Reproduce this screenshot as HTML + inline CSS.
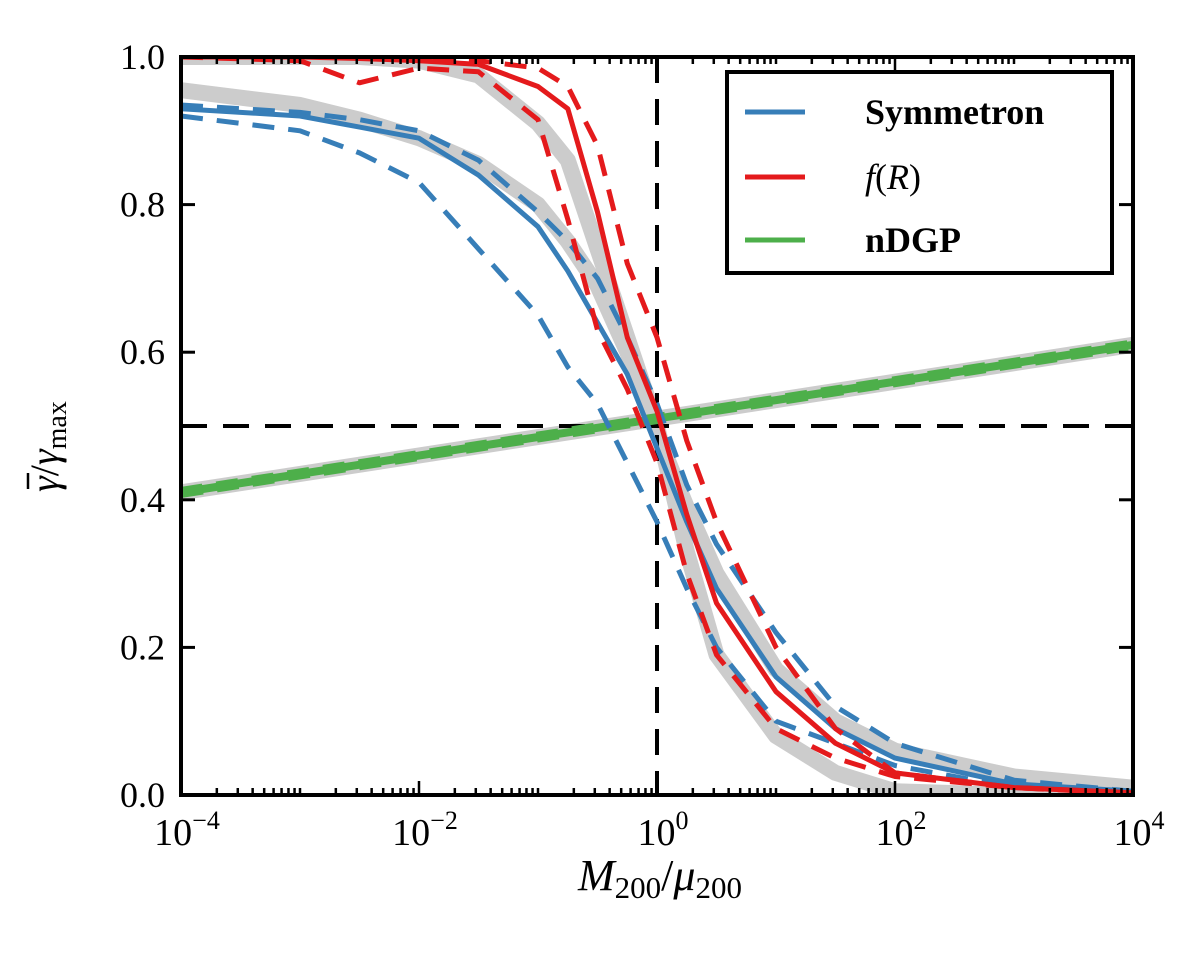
<!DOCTYPE html>
<html><head><meta charset="utf-8"><style>
body{margin:0;background:#fff}
svg text{font-family:"Liberation Serif",serif;fill:#000}
</style></head><body>
<svg id="chart" width="1200" height="960" xmlns="http://www.w3.org/2000/svg">
<g id="plot"></g>
<text x="660" y="890" text-anchor="middle" font-size="44"><tspan font-style="italic">M</tspan><tspan font-size="31" dy="8">200</tspan><tspan dy="-8">/</tspan><tspan font-style="italic">μ</tspan><tspan font-size="31" dy="8">200</tspan></text>
<g transform="translate(58,492) rotate(-90)">
<text x="0" y="0" font-size="40"><tspan font-style="italic">γ</tspan><tspan>/</tspan><tspan font-style="italic">γ</tspan><tspan font-size="28" dy="8">max</tspan></text>
<line x1="3" x2="19" y1="-30" y2="-30" stroke="#000" stroke-width="2.5"/>
</g>
<g>
<rect x="727" y="72" width="385" height="201" fill="#fff" stroke="#000" stroke-width="4"/>
<line x1="745" x2="805" y1="112" y2="112" stroke="#377eb8" stroke-width="5"/>
<text x="865" y="124" font-size="36" font-weight="bold">Symmetron</text>
<line x1="745" x2="805" y1="177" y2="177" stroke="#e41a1c" stroke-width="5"/>
<text x="865" y="189" font-size="36"><tspan font-style="italic">f</tspan>(<tspan font-style="italic">R</tspan>)</text>
<line x1="745" x2="805" y1="240" y2="240" stroke="#4daf4a" stroke-width="5"/>
<text x="865" y="252" font-size="36" font-weight="bold">nDGP</text>
</g>
</svg>
<script>
const lx = [-4,-3,-2.5,-2,-1.5,-1,-0.75,-0.5,-0.25,0,0.25,0.5,1,1.5,2,3,4];
const greySym = [0.955,0.935,0.915,0.89,0.855,0.80,0.75,0.69,0.60,0.49,0.39,0.30,0.17,0.10,0.06,0.025,0.01];
const greyFR  = [1.0,1.0,1.0,0.995,0.975,0.91,0.86,0.74,0.62,0.50,0.33,0.19,0.08,0.03,0.005,0,0];
const symSolid = [0.93,0.92,0.905,0.89,0.84,0.77,0.71,0.64,0.57,0.47,0.37,0.28,0.16,0.09,0.05,0.015,0.005];
const symUp    = [0.935,0.925,0.915,0.90,0.86,0.79,0.75,0.70,0.62,0.53,0.42,0.34,0.22,0.12,0.07,0.02,0.005];
const symLow   = [0.92,0.90,0.87,0.83,0.74,0.65,0.58,0.53,0.45,0.37,0.28,0.20,0.10,0.07,0.04,0.01,0.005];
const frSolid  = [1.0,1.0,0.998,0.995,0.99,0.96,0.93,0.79,0.62,0.52,0.38,0.26,0.14,0.07,0.03,0.01,0.003];
const frUp     = [1.0,1.0,1.0,1.0,0.995,0.985,0.96,0.88,0.72,0.62,0.48,0.37,0.20,0.09,0.03,0.01,0.003];
const frLow    = [1.0,0.995,0.965,0.985,0.98,0.915,0.78,0.63,0.55,0.45,0.30,0.19,0.09,0.05,0.025,0.01,0.002];
const ndgpX = [-4,4];
const ndgp = [0.41,0.61];
const yTicks = [0,0.2,0.4,0.6,0.8,1.0];
const yTickLabels = ["0.0","0.2","0.4","0.6","0.8","1.0"];
const xMajor = [-4,-2,0,2,4];
const xMajorExp = ["\u22124","\u22122","0","2","4"];

const L=181,R=1133,T=57,B=795;
const X=v=>L+(v+4)/8*(R-L);
const Y=v=>B-v*(B-T);
const NS="http://www.w3.org/2000/svg";
const svg=document.getElementById('chart');
const g=document.getElementById('plot');
function mk(tag,attrs,parent){const e=document.createElementNS(NS,tag);for(const k in attrs)e.setAttribute(k,attrs[k]);(parent||g).appendChild(e);return e;}
function pts(xs,ys){return xs.map((x,i)=>X(x).toFixed(1)+','+Y(ys[i]).toFixed(1)).join(' ');}
const clip=mk('clipPath',{id:'c'},svg);mk('rect',{x:L,y:T,width:R-L,height:B-T},clip);
const lines=mk('g',{'clip-path':'url(#c)'});
function line(xs,ys,color,w,dash,name){
  const p=mk('polyline',{points:pts(xs,ys),fill:'none',stroke:color,'stroke-width':w,'stroke-linejoin':'round'},lines);
  if(dash)p.setAttribute('stroke-dasharray',dash);
  
  
}
line(lx,greySym,'#cccccc',16,null,'symmetron-theory-band');
line(lx,greyFR,'#cccccc',16,null,'fr-theory-band');
line(ndgpX,ndgp,'#cccccc',16,null,'ndgp-theory-band');
const h=mk('line',{x1:L,x2:R,y1:Y(0.5),y2:Y(0.5),stroke:'#000','stroke-width':4,'stroke-dasharray':'26,16'},lines);


const v=mk('line',{x1:X(0),x2:X(0),y1:T,y2:B,stroke:'#000','stroke-width':4,'stroke-dasharray':'26,16'},lines);


line(ndgpX,ndgp,'#4daf4a',8,null,'ndgp-line');
line(ndgpX,ndgp,'#4daf4a',11,'22,14','ndgp-dashed-line');
line(lx,symUp,'#377eb8',5,'22,14','symmetron-upper-dashed');
line(lx,symLow,'#377eb8',5,'22,14','symmetron-lower-dashed');
line(lx,symSolid,'#377eb8',5,null,'symmetron-line');
line(lx,frUp,'#e41a1c',5,'22,14','fr-upper-dashed');
line(lx,frLow,'#e41a1c',5,'22,14','fr-lower-dashed');
line(lx,frSolid,'#e41a1c',5,null,'fr-line');
const fr=mk('rect',{x:L,y:T,width:R-L,height:B-T,fill:'none',stroke:'#000','stroke-width':4});


yTicks.forEach((t,i)=>{
  mk('line',{x1:L,x2:L+14,y1:Y(t),y2:Y(t),stroke:'#000','stroke-width':3});
  mk('line',{x1:R,x2:R-14,y1:Y(t),y2:Y(t),stroke:'#000','stroke-width':3});
  const tx=mk('text',{x:165,y:Y(t)+12,'text-anchor':'end','font-size':36});
  tx.textContent=yTickLabels[i];
  
  
});
for(let d=-4;d<4;d++){for(let k=1;k<10;k++){const p=d+Math.log10(k);const major=(k===1&&d%2===0);const len=major?14:7;
  mk('line',{x1:X(p),x2:X(p),y1:B,y2:B-len,stroke:'#000','stroke-width':2.5});
  mk('line',{x1:X(p),x2:X(p),y1:T,y2:T+len,stroke:'#000','stroke-width':2.5});}}
mk('line',{x1:X(4),x2:X(4),y1:B,y2:B-14,stroke:'#000','stroke-width':2.5});
xMajor.forEach((p,i)=>{
  const t=mk('text',{x:X(p)+6,y:845,'text-anchor':'middle','font-size':38});
  
  
  t.textContent='10';
  const s=mk('tspan',{dy:-16,'font-size':26},t);s.textContent=xMajorExp[i];
});
</script>
</body></html>
